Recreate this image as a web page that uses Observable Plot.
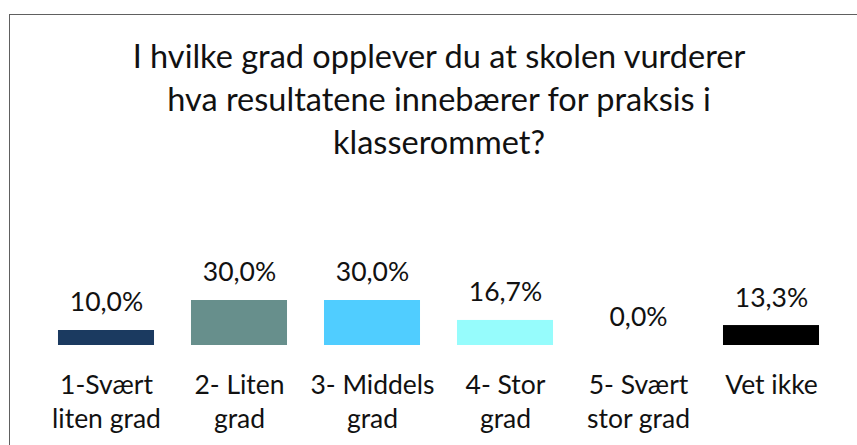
<!DOCTYPE html>
<html>
<head>
<meta charset="utf-8">
<script src="https://cdn.jsdelivr.net/npm/d3@7"></script>
<script src="https://cdn.jsdelivr.net/npm/@observablehq/plot@0.6"></script>
<style>
  html, body { margin: 0; padding: 0; background: #fff; width: 857px; height: 445px; overflow: hidden; }
  #frame { position: absolute; left: 9px; top: 14px; width: 1000px; height: 1000px; border: 1.5px solid #606060; box-sizing: border-box; }
  #title { position: absolute; left: 0; top: 34px; width: 878px; text-align: center; font-family: Lato, sans-serif; font-size: 32.5px; line-height: 43px; color: #111; }
  #chart { position: absolute; left: 0; top: 0; }
</style>
</head>
<body>
<div id="frame"></div>
<div id="title">I hvilke grad opplever du at skolen vurderer<br>hva resultatene innebærer for praksis i<br>klasserommet?</div>
<div id="chart"></div>
<script>
const categories = ["1-Svært\nliten grad", "2- Liten\ngrad", "3- Middels\ngrad", "4- Stor\ngrad", "5- Svært\nstor grad", "Vet ikke"];
const values = [10.0, 30.0, 30.0, 16.7, 0.0, 13.3];
const colors = ["#1B3A60", "#678F8C", "#50CDFF", "#96FCFC", "#FFFFFF", "#000000"];

const data = categories.map((c, i) => ({category: c, value: values[i], color: colors[i]}));
const fmt = v => d3.format(".1f")(v).replace(".", ",") + "%";

const chart = Plot.plot({
  width: 857,
  height: 445,
  marginLeft: 39.5,
  marginRight: 19.5,
  marginTop: 195,
  marginBottom: 100,
  style: {fontFamily: "Lato, sans-serif", color: "#111", background: "transparent"},
  x: {domain: categories, paddingInner: 0.278, paddingOuter: 0.139, round: false, label: null},
  y: {domain: [0, 100], axis: null},
  color: {type: "identity"},
  marks: [
    Plot.barY(data, {x: "category", y: "value", fill: "color"}),
    Plot.text(data, {x: "category", y: "value", text: d => fmt(d.value), dy: -27.5, fontSize: 26.5, fill: "#111"}),
    Plot.axisX({tickSize: 0, tickPadding: 24, fontSize: 26.5, lineHeight: 1.28, fill: "#111", label: null})
  ]
});
document.getElementById("chart").appendChild(chart);
</script>
</body>
</html>
